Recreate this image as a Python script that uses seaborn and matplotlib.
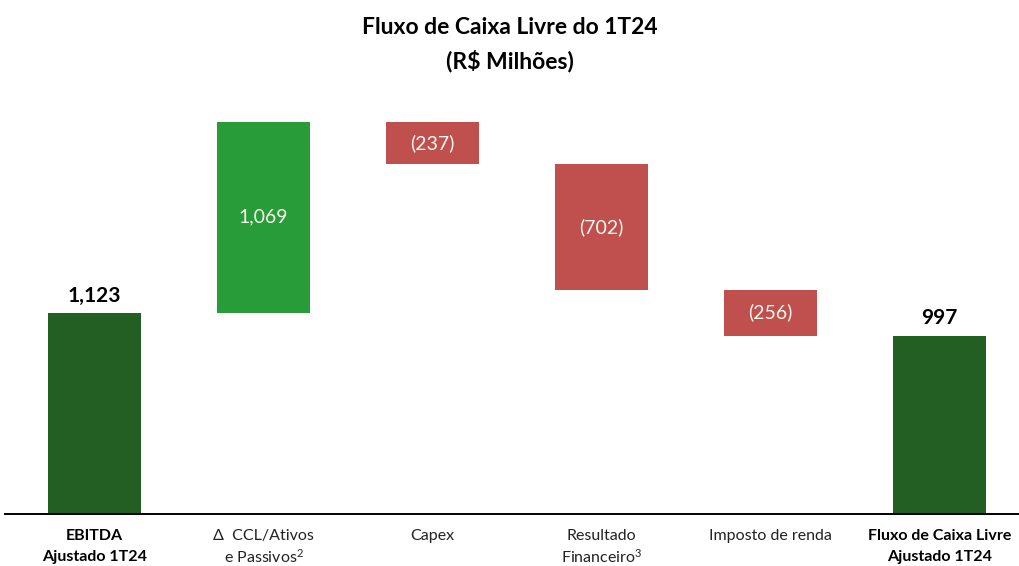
import matplotlib
matplotlib.use("Agg")
import matplotlib.pyplot as plt
import numpy as np
import pandas as pd
import seaborn as sns

categories = [
    "EBITDA\nAjustado 1T24",
    "Δ  CCL/Ativos\ne Passivos$^{2}$",
    "Capex",
    "Resultado\nFinanceiro$^{3}$",
    "Imposto de renda",
    "Fluxo de Caixa Livre\nAjustado 1T24",
]
changes = [1123, 1069, -237, -702, -256, 997]
kinds = ["total", "up", "down", "down", "down", "total"]
value_labels = ["1,123", "1,069", "(237)", "(702)", "(256)", "997"]

DARK_GREEN = "#235e23"
LIGHT_GREEN = "#289c38"
RED = "#c0504d"
palette = {"total": DARK_GREEN, "up": LIGHT_GREEN, "down": RED}

sns.set_theme(style="white")
plt.rcParams["font.family"] = ["Lato", "DejaVu Sans"]
plt.rcParams["mathtext.fontset"] = "custom"
plt.rcParams["mathtext.rm"] = "Lato"
plt.rcParams["mathtext.it"] = "Lato"
plt.rcParams["mathtext.default"] = "regular"

# waterfall bottoms / heights
bottoms, heights = [], []
running = 0
for ch, kind in zip(changes, kinds):
    if kind == "total":
        bottoms.append(0)
        heights.append(ch)
        running = ch
    elif ch >= 0:
        bottoms.append(running)
        heights.append(ch)
        running += ch
    else:
        running += ch
        bottoms.append(running)
        heights.append(-ch)

df = pd.DataFrame({"cat": categories, "height": heights, "bottom": bottoms, "kind": kinds})

fig = plt.figure(figsize=(10.19, 5.66), dpi=100)
ax = fig.add_axes([5 / 1019, 52 / 566, 1014 / 1019, 0.759])

sns.barplot(
    data=df, x="cat", y="height", color=DARK_GREEN,
    bottom=df["bottom"].values, width=0.555, saturation=1,
    linewidth=0, ax=ax,
)
# colour each bar by its kind
for patch, kind in zip(ax.patches, kinds):
    patch.set_facecolor(palette[kind])

ax.set_xlim(-0.53, 5.47)
ax.set_ylim(0, 2400)
ax.set_xlabel("")
ax.set_ylabel("")
ax.set_yticks([])
for side in ["top", "right", "left"]:
    ax.spines[side].set_visible(False)
ax.spines["bottom"].set_color("black")
ax.spines["bottom"].set_linewidth(1.4)

ax.tick_params(axis="x", length=0, pad=11, labelsize=11.5, colors="#222222")
for i, lbl in enumerate(ax.get_xticklabels()):
    # mathtext superscripts make the line box taller, so tighten those
    lbl.set_linespacing(1.3 if "$" in categories[i] else 1.65)
    if kinds[i] == "total":
        lbl.set_fontweight("bold")
        lbl.set_color("black")

for i, (b, h, kind, txt) in enumerate(zip(bottoms, heights, kinds, value_labels)):
    if kind == "total":
        ax.text(i, b + h + 40, txt, ha="center", va="bottom",
                fontsize=15, fontweight="bold", color="black")
    else:
        ax.text(i, b + h / 2, txt, ha="center", va="center",
                fontsize=14, color="#f8f8ee")

fig.text(0.5, 0.952, "Fluxo de Caixa Livre do 1T24", ha="center", va="center",
         fontsize=16.5, fontweight="bold", color="black")
fig.text(0.5, 0.893, "(R$ Milhões)", ha="center", va="center",
         fontsize=16.5, fontweight="bold", color="black")

fig.savefig("out.png", dpi=100, facecolor="white")
